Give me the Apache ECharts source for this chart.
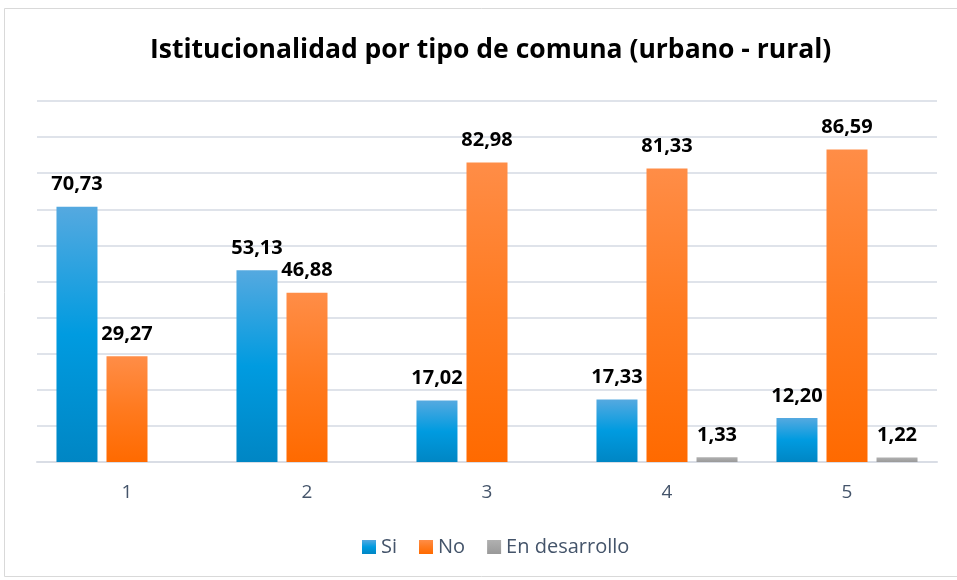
<!DOCTYPE html>
<html>
<head>
<meta charset="utf-8">
<script src="https://cdn.jsdelivr.net/npm/echarts@6/dist/echarts.min.js"></script>
<style>html,body{margin:0;padding:0;background:#fff}#c{width:957px;height:580px}</style>
</head>
<body>
<div id="c"></div>
<script>
const categories = ['1', '2', '3', '4', '5'];
const siValues = [70.73, 53.13, 17.02, 17.33, 12.20];
const noValues = [29.27, 46.88, 82.98, 81.33, 86.59];
const desarrolloValues = [null, null, null, 1.33, 1.22];
const seriesNames = ['Si', 'No', 'En desarrollo'];

const chart = echarts.init(document.getElementById('c'));
const grad = (a, b, c) => new echarts.graphic.LinearGradient(0, 0, 0, 1, [
  {offset: 0, color: a}, {offset: 0.5, color: b}, {offset: 1, color: c}
]);
const labelCfg = {
  show: true, position: 'top', distance: 12,
  fontFamily: 'Open Sans', fontWeight: 'bold', fontSize: 20, color: '#000',
  formatter: p => p.value == null ? '' : p.value.toFixed(2).replace('.', ',')
};
const mk = (name, data, color) => ({
  name, type: 'bar', data, barWidth: 41, barGap: '22%',
  itemStyle: {color}, label: labelCfg
});
chart.setOption({
  animation: false,
  title: {
    text: 'Istitucionalidad por tipo de comuna (urbano - rural)',
    left: 145, top: 32,
    textStyle: {fontFamily: 'Open Sans', fontWeight: 'bold', fontSize: 26.5, color: '#000'}
  },
  graphic: [{
    type: 'rect', shape: {x: 4.5, y: 8.5, width: 960, height: 568},
    style: {fill: 'none', stroke: '#d9d9d9', lineWidth: 1}, silent: true
  }],
  legend: {
    data: seriesNames, bottom: 18, left: 357, itemWidth: 14, itemHeight: 14, itemGap: 22,
    icon: 'rect',
    textStyle: {fontFamily: 'Open Sans', fontSize: 20, color: '#44546a'}
  },
  grid: {left: 37, right: 20, top: 101, bottom: 118},
  xAxis: {
    type: 'category', data: categories,
    axisLine: {lineStyle: {color: '#d9dde5', width: 2}},
    axisTick: {show: false},
    axisLabel: {fontFamily: 'Open Sans', fontSize: 19, color: '#44546a', margin: 21}
  },
  yAxis: {
    type: 'value', min: 0, max: 100, interval: 10,
    axisLabel: {show: false}, axisLine: {show: false}, axisTick: {show: false},
    splitLine: {lineStyle: {color: '#dfe3ea', width: 2}}
  },
  series: [
    mk(seriesNames[0], siValues, grad('#55a9e0', '#009be0', '#0086c4')),
    mk(seriesNames[1], noValues, grad('#ff8d47', '#ff7a1f', '#ff6a00')),
    mk(seriesNames[2], desarrolloValues, grad('#b0b0b0', '#a5a5a5', '#999999'))
  ]
});
</script>
</body>
</html>
